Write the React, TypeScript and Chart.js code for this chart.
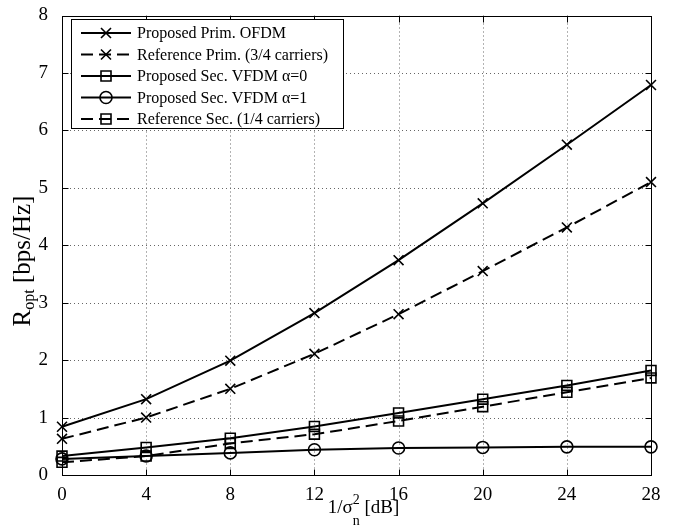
import React, { useEffect, useRef } from "react";
import { Chart, registerables } from "chart.js";

Chart.register(...registerables);

// ---- data ----
const snrDb = [0, 4, 8, 12, 16, 20, 24, 28];
const proposedPrimOFDM = [0.84, 1.32, 1.99, 2.82, 3.74, 4.73, 5.75, 6.79];
const referencePrim = [0.63, 1.0, 1.5, 2.11, 2.8, 3.55, 4.31, 5.1];
const proposedSecAlpha0 = [0.33, 0.48, 0.64, 0.845, 1.08, 1.32, 1.56, 1.82];
const proposedSecAlpha1 = [0.28, 0.33, 0.385, 0.44, 0.47, 0.48, 0.49, 0.49];
const referenceSec = [0.22, 0.33, 0.55, 0.71, 0.94, 1.19, 1.44, 1.69];

const xTicks = [0, 4, 8, 12, 16, 20, 24, 28];
const yTicks = [0, 1, 2, 3, 4, 5, 6, 7, 8];

const seriesLabels = [
  "Proposed Prim. OFDM",
  "Reference Prim. (3/4 carriers)",
  "Proposed Sec. VFDM \u03b1=0",
  "Proposed Sec. VFDM \u03b1=1",
  "Reference Sec. (1/4 carriers)",
];
const seriesValues = [proposedPrimOFDM, referencePrim, proposedSecAlpha0, proposedSecAlpha1, referenceSec];
const seriesMarkers = ["crossRot", "crossRot", "rect", "circle", "rect"];
const seriesDashed = [false, true, false, false, true];

const FONT = '"Liberation Serif", "Times New Roman", serif';
const DASH = [12, 6];

function drawMarker(ctx: CanvasRenderingContext2D, style: string, cx: number, cy: number) {
  ctx.beginPath();
  if (style === "crossRot") {
    const r = 5;
    ctx.moveTo(cx - r, cy - r);
    ctx.lineTo(cx + r, cy + r);
    ctx.moveTo(cx - r, cy + r);
    ctx.lineTo(cx + r, cy - r);
  } else if (style === "rect") {
    ctx.rect(cx - 5, cy - 5, 10, 10);
  } else {
    ctx.arc(cx, cy, 6, 0, Math.PI * 2);
  }
  ctx.stroke();
}

const decorPlugin = {
  id: "decor",
  beforeDatasetsDraw(chart: any) {
    const { ctx, chartArea: a, scales } = chart;
    const xs = scales.x;
    const ys = scales.y;
    ctx.save();
    ctx.strokeStyle = "#666";
    ctx.lineWidth = 1;
    ctx.setLineDash([1, 3]);
    xTicks.slice(1, -1).forEach((v) => {
      const px = Math.round(xs.getPixelForValue(v)) + 0.5;
      ctx.beginPath();
      ctx.moveTo(px, a.top);
      ctx.lineTo(px, a.bottom);
      ctx.stroke();
    });
    yTicks.slice(1, -1).forEach((v) => {
      const py = Math.round(ys.getPixelForValue(v)) + 0.5;
      ctx.beginPath();
      ctx.moveTo(a.left, py);
      ctx.lineTo(a.right, py);
      ctx.stroke();
    });
    ctx.restore();
  },
  afterDatasetsDraw(chart: any) {
    const { ctx, chartArea: a, scales } = chart;
    const xs = scales.x;
    const ys = scales.y;
    ctx.save();
    ctx.setLineDash([]);
    ctx.strokeStyle = "#000";
    ctx.lineWidth = 1;
    const L = Math.round(a.left) + 0.5;
    const R = Math.round(a.right) + 0.5;
    const T = Math.round(a.top) + 0.5;
    const B = Math.round(a.bottom) + 0.5;
    ctx.strokeRect(L, T, R - L, B - T);
    const tl = 6;
    ctx.beginPath();
    xTicks.slice(1, -1).forEach((v) => {
      const px = Math.round(xs.getPixelForValue(v)) + 0.5;
      ctx.moveTo(px, B);
      ctx.lineTo(px, B - tl);
      ctx.moveTo(px, T);
      ctx.lineTo(px, T + tl);
    });
    yTicks.slice(1, -1).forEach((v) => {
      const py = Math.round(ys.getPixelForValue(v)) + 0.5;
      ctx.moveTo(L, py);
      ctx.lineTo(L + tl, py);
      ctx.moveTo(R, py);
      ctx.lineTo(R - tl, py);
    });
    ctx.stroke();

    // legend
    const bx = 71.5, by = 19.5, bw = 272, bh = 109;
    ctx.fillStyle = "#fff";
    ctx.fillRect(bx, by, bw, bh);
    ctx.strokeRect(bx, by, bw, bh);
    ctx.font = `16px ${FONT}`;
    ctx.textAlign = "left";
    ctx.textBaseline = "middle";
    seriesLabels.forEach((label, i) => {
      const cy = 33 + i * 21.5;
      ctx.strokeStyle = "#000";
      ctx.lineWidth = 2;
      ctx.setLineDash(seriesDashed[i] ? DASH : []);
      ctx.beginPath();
      ctx.moveTo(81, cy);
      ctx.lineTo(131, cy);
      ctx.stroke();
      ctx.setLineDash([]);
      ctx.lineWidth = 1.6;
      drawMarker(ctx, seriesMarkers[i], 106, cy);
      ctx.fillStyle = "#000";
      ctx.fillText(label, 137, cy + 1);
    });

    // x axis title: 1/σ_n^2 [dB]
    ctx.fillStyle = "#000";
    ctx.textBaseline = "alphabetic";
    const big = `19px ${FONT}`;
    const small = `14px ${FONT}`;
    ctx.font = big;
    const p1 = "1/\u03c3";
    const p3 = " [dB]";
    const w1 = ctx.measureText(p1).width;
    const w3 = ctx.measureText(p3).width;
    ctx.font = small;
    const w2 = Math.max(ctx.measureText("2").width, ctx.measureText("n").width);
    const total = w1 + w2 + w3;
    const cx = (a.left + a.right) / 2 + 7;
    const x0 = cx - total / 2;
    const base = 513;
    ctx.font = big;
    ctx.fillText(p1, x0, base);
    ctx.font = small;
    ctx.fillText("2", x0 + w1, base - 9);
    ctx.fillText("n", x0 + w1, base + 12);
    ctx.font = big;
    ctx.fillText(p3, x0 + w1 + w2, base);

    // y axis title: R_opt [bps/Hz]
    ctx.save();
    const yc = 261;
    ctx.translate(30, yc);
    ctx.rotate(-Math.PI / 2);
    const ybig = `25px ${FONT}`;
    const ysmall = `16px ${FONT}`;
    ctx.font = ybig;
    const q1 = "R";
    const q3 = " [bps/Hz]";
    const v1 = ctx.measureText(q1).width;
    const v3 = ctx.measureText(q3).width;
    ctx.font = ysmall;
    const v2 = ctx.measureText("opt").width;
    const tot = v1 + v2 + v3;
    const s = -tot / 2;
    ctx.font = ybig;
    ctx.fillText(q1, s, 0);
    ctx.font = ysmall;
    ctx.fillText("opt", s + v1, 4);
    ctx.font = ybig;
    ctx.fillText(q3, s + v1 + v2, 0);
    ctx.restore();

    ctx.restore();
  },
};

export default function App() {
  const ref = useRef<HTMLCanvasElement | null>(null);

  useEffect(() => {
    if (!ref.current) return;
    const datasets = seriesLabels.map((label, i) => ({
      label,
      data: snrDb.map((x, j) => ({ x, y: seriesValues[i][j] })),
      borderColor: "#000",
      backgroundColor: "rgba(0,0,0,0)",
      borderWidth: 2,
      borderDash: seriesDashed[i] ? DASH : [],
      pointStyle: seriesMarkers[i],
      pointRadius: seriesMarkers[i] === "circle" ? 6 : 7,
      pointBorderWidth: 1.6,
      pointBorderColor: "#000",
      pointBackgroundColor: "rgba(0,0,0,0)",
      tension: 0,
      clip: false as any,
    }));

    const chart = new Chart(ref.current, {
      type: "line",
      data: { datasets },
      options: {
        animation: false,
        responsive: false,
        devicePixelRatio: 1,
        layout: { padding: { top: 11, right: 35, left: 0, bottom: 0 } },
        plugins: { legend: { display: false }, tooltip: { enabled: false } },
        scales: {
          x: {
            type: "linear",
            min: 0,
            max: 28,
            grid: { display: false },
            border: { display: false },
            ticks: {
              stepSize: 4,
              color: "#000",
              padding: 3,
              maxRotation: 0,
              font: { family: FONT, size: 19, lineHeight: 1 },
            },
            afterFit: (s: any) => {
              s.height = 54;
            },
          },
          y: {
            type: "linear",
            min: 0,
            max: 8,
            grid: { display: false },
            border: { display: false },
            ticks: {
              stepSize: 1,
              color: "#000",
              padding: 6,
              font: { family: FONT, size: 19, lineHeight: 1 },
            },
            afterFit: (s: any) => {
              s.width = 62;
            },
          },
        },
      },
      plugins: [decorPlugin],
    });
    return () => chart.destroy();
  }, []);

  return (
    <div style={{ position: "fixed", left: 0, top: 0, width: 686, height: 529, background: "#fff" }}>
      <canvas ref={ref} width={686} height={529} style={{ display: "block" }} />
    </div>
  );
}
